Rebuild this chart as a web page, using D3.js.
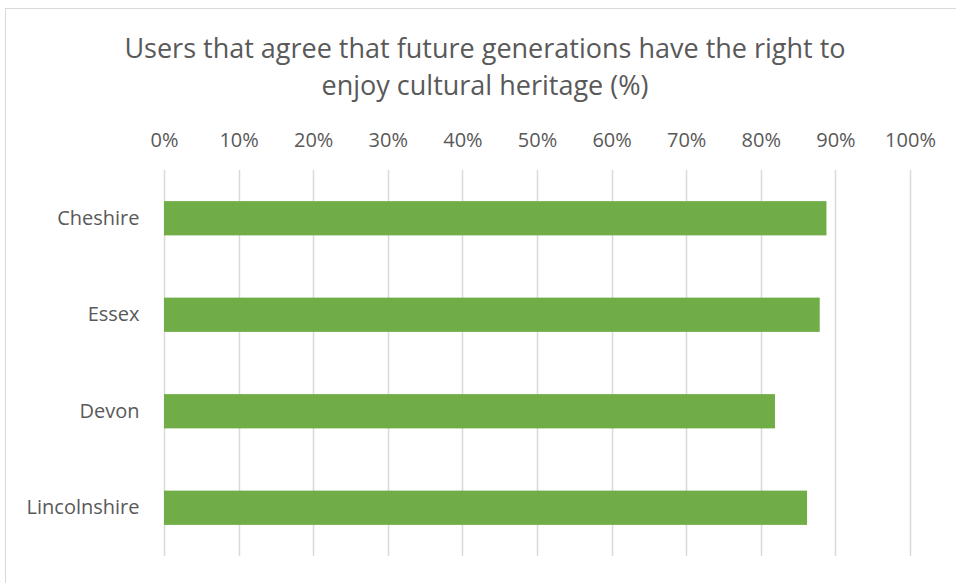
<!DOCTYPE html>
<html>
<head>
<meta charset="utf-8">
<script src="https://cdn.jsdelivr.net/npm/d3@7"></script>
<style>
  body { margin: 0; background: #fff; }
  text { font-family: "Open Sans", Lato, sans-serif; fill: #595959; }
</style>
</head>
<body>
<svg id="chart"></svg>
<script>
// data
const counties = ["Cheshire", "Essex", "Devon", "Lincolnshire"];
const agreePct = [88.8, 87.9, 81.9, 86.2];
const tickValues = [0, 10, 20, 30, 40, 50, 60, 70, 80, 90, 100];
const titleLines = ["Users that agree that future generations have the right to", "enjoy cultural heritage (%)"];

const w = 956;
const h = 583;
const margin = { top: 170, right: 46, bottom: 27, left: 164 };

const svg = d3.select("#chart")
    .attr("width", w)
    .attr("height", h);

// chart area border
svg.append("rect")
    .attr("x", 5.5)
    .attr("y", 8.5)
    .attr("width", w + 10)
    .attr("height", h + 10)
    .attr("fill", "none")
    .attr("stroke", "#d9d9d9");

const xScale = d3.scaleLinear()
    .domain([0, 100])
    .range([margin.left, w - margin.right]);

const yScale = d3.scaleBand()
    .domain(counties)
    .range([margin.top, h - margin.bottom])
    .paddingInner(0.645)
    .paddingOuter(0.3225);

// gridlines
svg.append("g")
    .selectAll("line")
    .data(tickValues)
    .join("line")
    .attr("x1", d => Math.round(xScale(d)) + 0.5)
    .attr("x2", d => Math.round(xScale(d)) + 0.5)
    .attr("y1", margin.top)
    .attr("y2", h - margin.bottom)
    .attr("stroke", "#d9d9d9")
    .attr("stroke-width", 1.5);

// bars
svg.append("g")
    .selectAll("rect")
    .data(counties.map((c, i) => ({ county: c, value: agreePct[i] })))
    .join("rect")
    .attr("x", xScale(0))
    .attr("y", d => yScale(d.county))
    .attr("width", d => xScale(d.value) - xScale(0))
    .attr("height", yScale.bandwidth())
    .attr("fill", "#70ad47");

// top axis labels
let xAxis = g => g
    .attr("transform", `translate(0,${margin.top})`)
    .call(d3.axisTop(xScale).tickValues(tickValues).tickFormat(d => d + "%").tickSize(0).tickPadding(23.5))
    .call(g => g.select(".domain").remove())
    .call(g => g.selectAll("text").attr("font-size", 20).attr("font-family", null).attr("fill", null));

svg.append("g").call(xAxis);

// category labels
let yAxis = g => g
    .attr("transform", `translate(${margin.left},0)`)
    .call(d3.axisLeft(yScale).tickSize(0).tickPadding(24.5))
    .call(g => g.select(".domain").remove())
    .call(g => g.selectAll("text").attr("font-size", 20).attr("font-family", null).attr("fill", null));

svg.append("g").call(yAxis);

// title
svg.append("g")
    .selectAll("text")
    .data(titleLines)
    .join("text")
    .attr("x", 485)
    .attr("y", (d, i) => 58 + i * 37)
    .attr("text-anchor", "middle")
    .attr("font-size", 27)
    .text(d => d);
</script>
</body>
</html>
